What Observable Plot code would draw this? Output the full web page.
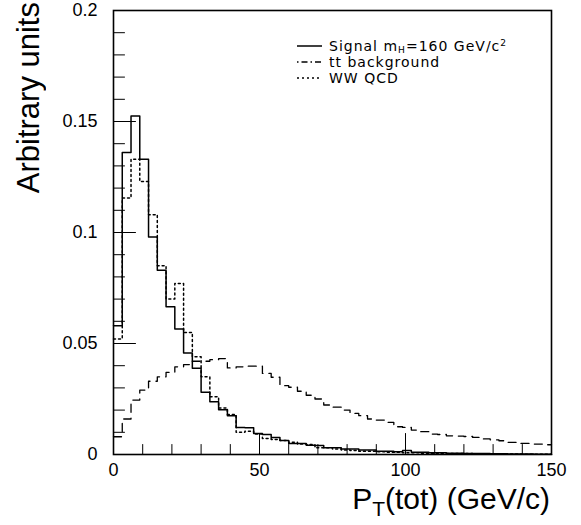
<!DOCTYPE html>
<html><head><meta charset="utf-8">
<script src="https://cdn.jsdelivr.net/npm/d3@7"></script>
<script src="https://cdn.jsdelivr.net/npm/@observablehq/plot@0.6"></script>
<style>
body{margin:0;background:#fff;}
#wrap{position:relative;width:581px;height:525px;font-family:"Liberation Sans",Arial,sans-serif;color:#000;}
#wrap > svg{position:absolute;left:0;top:0;}
.ttl{position:absolute;white-space:nowrap;line-height:1;}
#ytitle{left:13px;top:2px;font-size:31px;writing-mode:vertical-rl;transform:rotate(180deg);}
#xtitle{right:31px;top:484px;font-size:30px;}
#xtitle sub{font-size:70%;vertical-align:-0.35em;}
#legend{position:absolute;left:297px;top:38px;font-family:"DejaVu Sans",sans-serif;font-size:14px;letter-spacing:1px;}
#legend .row{height:16px;display:flex;align-items:center;white-space:nowrap;}
#legend svg{margin-right:7px;}
#legend sub{font-size:65%;vertical-align:-0.2em;}
#legend sup{font-size:65%;vertical-align:0.5em;}
</style></head><body><div id="wrap"></div>
<script>
const binWidth = 3;
const signal = [0.058, 0.136, 0.1525, 0.133, 0.098, 0.083, 0.0665, 0.0565, 0.0457, 0.0389,
  0.028, 0.0238, 0.0202, 0.0175, 0.0122, 0.012, 0.0095, 0.009, 0.0077, 0.0063,
  0.005, 0.005, 0.0042, 0.004, 0.003, 0.003, 0.0025, 0.0025, 0.002, 0.002,
  0.0015, 0.0015, 0.0012, 0.0018, 0.001, 0.001, 0.0008, 0.0008, 0.0006, 0.0006,
  0.0005, 0.0004, 0.0004, 0.0003, 0.0003, 0.0002, 0.0002, 0.0002, 0.0001, 0.0001];
const ttbar = [0.008, 0.016, 0.0245, 0.029, 0.033, 0.035, 0.037, 0.0395, 0.0405, 0.042,
  0.042, 0.0427, 0.0432, 0.039, 0.0395, 0.0398, 0.0398, 0.0365, 0.0348, 0.031,
  0.0303, 0.0285, 0.0267, 0.025, 0.0223, 0.0213, 0.02, 0.0185, 0.0175, 0.016,
  0.0155, 0.0145, 0.0125, 0.0122, 0.011, 0.0103, 0.0092, 0.009, 0.0084, 0.0083,
  0.0081, 0.0077, 0.007, 0.0066, 0.0062, 0.0055, 0.005, 0.005, 0.0047, 0.0044];
const wwqcd = [0.052, 0.1155, 0.133, 0.123, 0.108, 0.085, 0.070, 0.077, 0.055, 0.044,
  0.035, 0.026, 0.021, 0.018, 0.010, 0.0105, 0.0092, 0.0072, 0.0068, 0.0063,
  0.0055, 0.0047, 0.0045, 0.003, 0.003, 0.0025, 0.002, 0.0018, 0.0015, 0.0015,
  0.0012, 0.001, 0.001, 0.0008, 0.0008, 0.0006, 0.0006, 0.0005, 0.0005, 0.0004,
  0.0004, 0.0003, 0.0003, 0.0003, 0.0002, 0.0002, 0.0002, 0.0001, 0.0001, 0.0001];
const xMajorTicks = [0, 50, 100, 150];
const xTickLabels = ["0", "50", "100", "150"];
const xMinorTicks = [10, 20, 30, 40, 60, 70, 80, 90, 110, 120, 130, 140];
const yMajorTicks = [0, 0.05, 0.1, 0.15, 0.2];
const yTickLabels = ["0", "0.05", "0.1", "0.15", "0.2"];
const yMinorTicks = [0.01, 0.02, 0.03, 0.04, 0.06, 0.07, 0.08, 0.09, 0.11, 0.12, 0.13, 0.14, 0.16, 0.17, 0.18, 0.19];

function steps(vals) {
  const pts = vals.map((v, i) => ({x: i * binWidth, y: v}));
  pts.push({x: vals.length * binWidth, y: vals[vals.length - 1]});
  return pts;
}
const tickShape = {draw(ctx, l) { ctx.moveTo(0, 0); ctx.lineTo(0, -l); }};

const chart = Plot.plot({
  width: 581, height: 525,
  marginLeft: 113, marginRight: 30, marginTop: 10, marginBottom: 71,
  style: {background: "white", color: "black", fontFamily: "Liberation Sans, Arial, sans-serif"},
  x: {domain: [0, 150]},
  y: {domain: [0, 0.2]},
  marks: [
    Plot.line(steps(ttbar), {x: "x", y: "y", curve: "step-after", stroke: "black", strokeWidth: 1.3, strokeDasharray: "8,6"}),
    Plot.line(steps(wwqcd), {x: "x", y: "y", curve: "step-after", stroke: "black", strokeWidth: 1.5, strokeDasharray: "2,3"}),
    Plot.line(steps(signal), {x: "x", y: "y", curve: "step-after", stroke: "black", strokeWidth: 1.5}),
    Plot.vector(xMinorTicks, {x: d => d, frameAnchor: "bottom", length: 10, anchor: "start", rotate: 0, shape: tickShape, stroke: "black", strokeWidth: 1}),
    Plot.vector(xMajorTicks, {x: d => d, frameAnchor: "bottom", length: 21, anchor: "start", rotate: 0, shape: tickShape, stroke: "black", strokeWidth: 1}),
    Plot.vector(yMinorTicks, {y: d => d, frameAnchor: "left", length: 11, anchor: "start", rotate: 90, shape: tickShape, stroke: "black", strokeWidth: 1}),
    Plot.vector(yMajorTicks, {y: d => d, frameAnchor: "left", length: 22, anchor: "start", rotate: 90, shape: tickShape, stroke: "black", strokeWidth: 1}),
    Plot.axisX(xMajorTicks, {tickSize: 0, tickPadding: 9, fontSize: 18, tickFormat: (d, i) => xTickLabels[i], label: null}),
    Plot.axisY(yMajorTicks, {tickSize: 0, tickPadding: 16, fontSize: 18, tickFormat: (d, i) => yTickLabels[i], label: null}),
    Plot.frame({stroke: "black", strokeWidth: 1.6})
  ]
});
const wrap = document.getElementById("wrap");
wrap.appendChild(chart);

const yt = document.createElement("div");
yt.id = "ytitle"; yt.className = "ttl"; yt.textContent = "Arbitrary units";
wrap.appendChild(yt);
const xt = document.createElement("div");
xt.id = "xtitle"; xt.className = "ttl"; xt.innerHTML = "P<sub>T</sub>(tot) (GeV/c)";
wrap.appendChild(xt);

const legendItems = [
  {html: "Signal m<sub>H</sub>=160 GeV/c<sup>2</sup>", dash: null},
  {html: "tt background", dash: "1.5,3,6,3"},
  {html: "WW QCD", dash: "2,3"}
];
const lg = document.createElement("div");
lg.id = "legend";
legendItems.forEach(it => {
  const r = document.createElement("div");
  r.className = "row";
  r.innerHTML = `<svg width="25" height="6"><line x1="0" y1="3" x2="25" y2="3" stroke="black" stroke-width="1.5" ${it.dash ? `stroke-dasharray="${it.dash}"` : ""}/></svg><span>${it.html}</span>`;
  lg.appendChild(r);
});
wrap.appendChild(lg);
</script></body></html>
